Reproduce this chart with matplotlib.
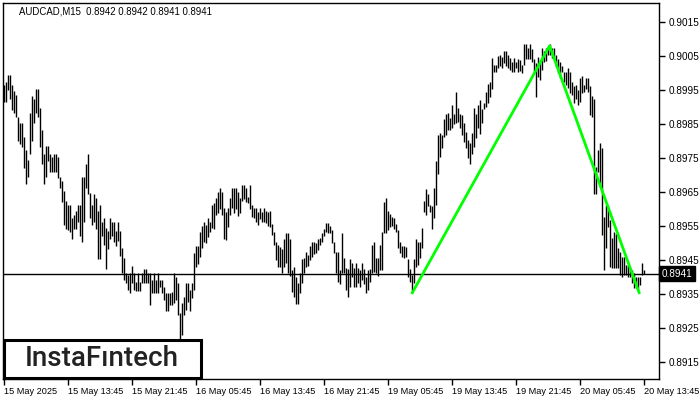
import matplotlib.pyplot as plt
from matplotlib.patches import Rectangle

# M15 bars, high / low (left to right)
highs = [
    0.89965, 0.89975, 0.89995, 0.89995, 0.89965, 0.89946, 0.89934, 0.89872, 0.89853, 0.89853,
    0.89813, 0.89774, 0.89745, 0.89882, 0.89931, 0.89924, 0.89953, 0.89953, 0.89897, 0.89833,
    0.89761, 0.89784, 0.89784, 0.89761, 0.89752, 0.89761, 0.89761, 0.89752, 0.89693, 0.89683,
    0.89654, 0.89624, 0.89612, 0.89612, 0.89575, 0.89583, 0.89593, 0.89612, 0.89612, 0.89693,
    0.89693, 0.89732, 0.89761, 0.89647, 0.89612, 0.89644, 0.89632, 0.89593, 0.89612, 0.89563,
    0.89573, 0.89544, 0.89534, 0.89573, 0.89563, 0.89563, 0.89534, 0.89563, 0.89534, 0.89485,
    0.89456, 0.89412, 0.89405, 0.89412, 0.89431, 0.89412,
    0.89386, 0.89412, 0.89386, 0.89412, 0.89424, 0.89424, 0.89412, 0.89412, 0.89391, 0.89412,
    0.89391, 0.89412, 0.89391, 0.89391, 0.89371, 0.89353, 0.89353, 0.89353, 0.89356, 0.89412,
    0.89400, 0.89383, 0.89294, 0.89324, 0.89342, 0.89383, 0.89383, 0.89362, 0.89383, 0.89471,
    0.89491, 0.89491, 0.89533, 0.89550, 0.89562, 0.89553, 0.89574, 0.89562, 0.89612, 0.89618,
    0.89633, 0.89650, 0.89662, 0.89650, 0.89603, 0.89591, 0.89603, 0.89633, 0.89662, 0.89662,
    0.89662, 0.89650, 0.89633, 0.89671, 0.89671, 0.89662, 0.89636, 0.89671, 0.89612, 0.89603,
    0.89603, 0.89591, 0.89603, 0.89591, 0.89603,
    0.89594, 0.89591, 0.89594, 0.89556, 0.89533, 0.89503, 0.89494, 0.89489, 0.89483, 0.89512,
    0.89530, 0.89530, 0.89512, 0.89421, 0.89430, 0.89400, 0.89383, 0.89412, 0.89453, 0.89456,
    0.89474, 0.89465, 0.89491, 0.89503, 0.89503, 0.89500, 0.89512, 0.89515, 0.89530, 0.89542,
    0.89559, 0.89559, 0.89550, 0.89539, 0.89503, 0.89474, 0.89474, 0.89421, 0.89530, 0.89456,
    0.89427, 0.89424, 0.89453, 0.89442, 0.89427, 0.89442, 0.89427, 0.89421, 0.89442, 0.89424,
    0.89400, 0.89421, 0.89424, 0.89494, 0.89503, 0.89456, 0.89456, 0.89494, 0.89533, 0.89621,
    0.89633, 0.89594, 0.89586, 0.89577, 0.89574,
    0.89556, 0.89539, 0.89503, 0.89491, 0.89491, 0.89489, 0.89453, 0.89424, 0.89406, 0.89453,
    0.89512, 0.89503, 0.89503, 0.89544, 0.89624, 0.89659, 0.89644, 0.89612, 0.89609, 0.89662,
    0.89741, 0.89818, 0.89824, 0.89818, 0.89865, 0.89880, 0.89883, 0.89868, 0.89906, 0.89880,
    0.89944, 0.89897, 0.89880, 0.89877, 0.89853, 0.89827, 0.89803, 0.89794, 0.89824, 0.89897,
    0.89880, 0.89906, 0.89921, 0.89894, 0.89912, 0.89944, 0.89968, 0.89974, 0.90044, 0.90024,
    0.90024, 0.90050, 0.90053, 0.90047, 0.90065, 0.90065, 0.90053, 0.90044, 0.90033, 0.90044,
    0.90033, 0.90041, 0.90039, 0.90024, 0.90086,
    0.90086, 0.90074, 0.90086, 0.90071, 0.90041, 0.90030, 0.90047, 0.90039, 0.90074, 0.90065,
    0.90074, 0.90074, 0.90086, 0.90074, 0.90074, 0.90053, 0.90041, 0.90033, 0.90021, 0.90003,
    0.90003, 0.90015, 0.90003, 0.89974, 0.89962, 0.89965, 0.89950, 0.89986, 0.89991, 0.89965,
    0.89986, 0.89986, 0.89962, 0.89933, 0.89924, 0.89724, 0.89774, 0.89794, 0.89780, 0.89577,
    0.89612, 0.89603, 0.89568, 0.89515, 0.89533, 0.89527, 0.89486, 0.89474, 0.89459, 0.89459,
    0.89436, 0.89436, 0.89430, 0.89421, 0.89412, 0.89400, 0.89400, 0.89400, 0.89442, 0.89420,
]
lows = [
    0.89914, 0.89914, 0.89950, 0.89924, 0.89892, 0.89882, 0.89872, 0.89801, 0.89791, 0.89781,
    0.89722, 0.89673, 0.89693, 0.89762, 0.89801, 0.89853, 0.89882, 0.89872, 0.89781, 0.89732,
    0.89673, 0.89693, 0.89742, 0.89710, 0.89710, 0.89710, 0.89710, 0.89691, 0.89661, 0.89622,
    0.89552, 0.89542, 0.89539, 0.89532, 0.89512, 0.89542, 0.89542, 0.89561, 0.89522, 0.89503,
    0.89561, 0.89661, 0.89644, 0.89573, 0.89552, 0.89561, 0.89542, 0.89454, 0.89454, 0.89522,
    0.89493, 0.89424, 0.89483, 0.89512, 0.89522, 0.89503, 0.89490, 0.89505, 0.89461, 0.89412,
    0.89392, 0.89382, 0.89363, 0.89353, 0.89382, 0.89363,
    0.89359, 0.89359, 0.89359, 0.89383, 0.89383, 0.89383, 0.89383, 0.89318, 0.89353, 0.89353,
    0.89353, 0.89353, 0.89371, 0.89353, 0.89333, 0.89300, 0.89300, 0.89318, 0.89318, 0.89324,
    0.89333, 0.89289, 0.89218, 0.89230, 0.89289, 0.89303, 0.89327, 0.89300, 0.89339, 0.89362,
    0.89430, 0.89439, 0.89459, 0.89486, 0.89503, 0.89500, 0.89518, 0.89533, 0.89544, 0.89542,
    0.89583, 0.89589, 0.89600, 0.89583, 0.89512, 0.89509, 0.89547, 0.89583, 0.89603, 0.89589,
    0.89600, 0.89580, 0.89589, 0.89624, 0.89630, 0.89621, 0.89618, 0.89600, 0.89577, 0.89574,
    0.89562, 0.89553, 0.89571, 0.89562, 0.89562,
    0.89559, 0.89550, 0.89547, 0.89524, 0.89494, 0.89450, 0.89430, 0.89430, 0.89412, 0.89430,
    0.89442, 0.89412, 0.89403, 0.89356, 0.89341, 0.89321, 0.89321, 0.89353, 0.89383, 0.89412,
    0.89430, 0.89433, 0.89450, 0.89459, 0.89468, 0.89471, 0.89480, 0.89494, 0.89503, 0.89521,
    0.89533, 0.89530, 0.89530, 0.89500, 0.89471, 0.89412, 0.89386, 0.89380, 0.89412, 0.89412,
    0.89362, 0.89341, 0.89371, 0.89400, 0.89371, 0.89371, 0.89383, 0.89371, 0.89391, 0.89380,
    0.89353, 0.89362, 0.89386, 0.89412, 0.89415, 0.89412, 0.89403, 0.89421, 0.89421, 0.89530,
    0.89530, 0.89539, 0.89547, 0.89550, 0.89542,
    0.89533, 0.89486, 0.89471, 0.89459, 0.89456, 0.89459, 0.89400, 0.89386, 0.89353, 0.89383,
    0.89430, 0.89436, 0.89456, 0.89486, 0.89591, 0.89583, 0.89609, 0.89591, 0.89542, 0.89574,
    0.89612, 0.89703, 0.89753, 0.89780, 0.89812, 0.89818, 0.89833, 0.89833, 0.89839, 0.89850,
    0.89853, 0.89856, 0.89839, 0.89818, 0.89797, 0.89780, 0.89750, 0.89733, 0.89762, 0.89783,
    0.89809, 0.89839, 0.89821, 0.89853, 0.89894, 0.89900, 0.89912, 0.89930, 0.89953, 0.90003,
    0.90003, 0.90015, 0.90021, 0.90015, 0.90030, 0.90021, 0.90015, 0.90009, 0.90003, 0.90003,
    0.90015, 0.90003, 0.90006, 0.90000, 0.90024,
    0.90041, 0.90041, 0.90041, 0.90033, 0.90003, 0.89930, 0.89989, 0.89980, 0.90009, 0.90033,
    0.90036, 0.90053, 0.90053, 0.90044, 0.90041, 0.90018, 0.90000, 0.89986, 0.90003, 0.89974,
    0.89965, 0.89956, 0.89941, 0.89936, 0.89912, 0.89924, 0.89906, 0.89915, 0.89941, 0.89944,
    0.89953, 0.89944, 0.89877, 0.89871, 0.89644, 0.89644, 0.89709, 0.89665, 0.89524, 0.89421,
    0.89486, 0.89547, 0.89430, 0.89427, 0.89427, 0.89427, 0.89427, 0.89406, 0.89400, 0.89406,
    0.89406, 0.89400, 0.89400, 0.89383, 0.89368, 0.89368, 0.89362, 0.89377, 0.89406, 0.89410,
]

time_labels = ["15 May 2025", "15 May 13:45", "15 May 21:45", "16 May 05:45", "16 May 13:45",
               "16 May 21:45", "19 May 05:45", "19 May 13:45", "19 May 21:45", "20 May 05:45",
               "20 May 13:45"]
label_step = 32  # bars between time labels

price_ticks = [0.8915, 0.8925, 0.8935, 0.8945, 0.8955, 0.8965, 0.8975, 0.8985, 0.8995, 0.9005, 0.9015]
last_price = 0.8941
header = "AUDCAD,M15  0.8942 0.8942 0.8941 0.8941"

# double top pattern: low -> top -> low
pattern_idx = [204, 273, 318]
pattern_price = [0.8935, 0.9008, 0.8935]

plt.rcParams['font.family'] = ['Liberation Sans', 'DejaVu Sans']

fig = plt.figure(figsize=(7, 4), dpi=100)
ax = fig.add_axes([3 / 700, 21 / 400, 656 / 700, 376 / 400])

idx = list(range(len(highs)))
ax.vlines(idx, lows, highs, color='black', lw=1.0)
ax.axhline(last_price, color='black', lw=1.0)
ax.plot(pattern_idx, pattern_price, color='#00ff00', lw=2.0, solid_capstyle='butt')

ax.set_xlim(-0.3, 327.7)
ax.set_ylim(0.89100, 0.90206)

ax.yaxis.tick_right()
ax.set_yticks(price_ticks)
ax.set_yticklabels([f"{p:.4f}" for p in price_ticks])
ax.tick_params(axis='y', direction='out', length=4, width=1, labelsize=7.2, pad=3)

ax.set_xticks([i * label_step for i in range(len(time_labels))])
ax.set_xticklabels(time_labels)
for lab in ax.get_xticklabels():
    lab.set_horizontalalignment('left')
ax.tick_params(axis='x', direction='out', length=4, width=1, labelsize=6.6, pad=2)

for s in ax.spines.values():
    s.set_linewidth(1.0)
    s.set_color('black')

# current price box on the price scale
ax.text(1.004, last_price, f"{last_price:.4f}", transform=ax.get_yaxis_transform(),
        ha='left', va='center', fontsize=7.2, color='white',
        bbox=dict(boxstyle='square,pad=0.25', fc='black', ec='black'))

fig.text(19 / 700, 1 - 11 / 400, header, fontsize=6.9, ha='left', va='center')

# logo
fig.patches.append(Rectangle((4 / 700, 22 / 400), 197 / 700, 38 / 400, transform=fig.transFigure,
                             fill=True, fc='white', ec='black', lw=2.2, zorder=5))
fig.text(102 / 700, 1 - 359 / 400, "InstaF\u0131ntech", fontsize=20, ha='center', va='center',
         color='#222222', family=['Roboto', 'DejaVu Sans'], fontweight='medium', zorder=6)

fig.savefig("out.png", dpi=100)
